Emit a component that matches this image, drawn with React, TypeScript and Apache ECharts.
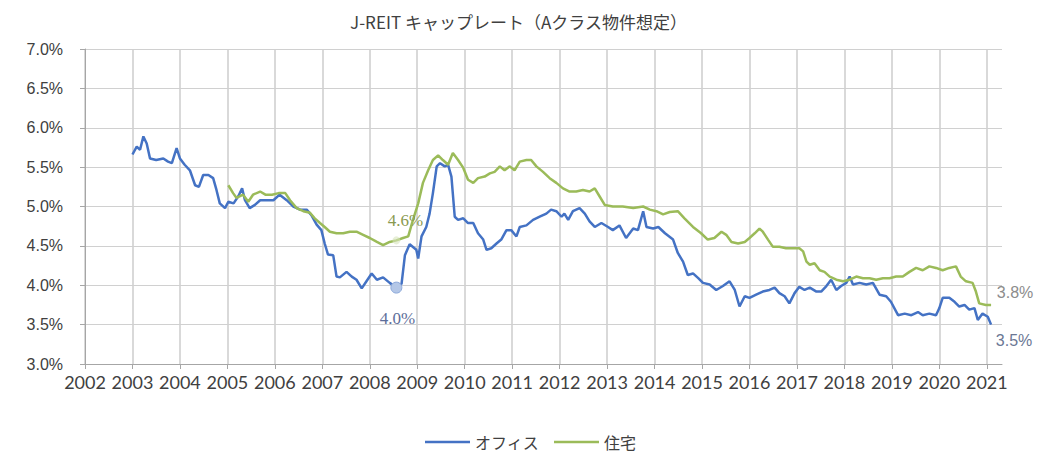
import React, { useEffect, useRef } from 'react';
import * as echarts from 'echarts';

const titleText = 'J-REIT キャップレート（Aクラス物件想定）';
const seriesNames = ['オフィス', '住宅'];
const yearTicks = [2002, 2003, 2004, 2005, 2006, 2007, 2008, 2009, 2010, 2011, 2012, 2013, 2014, 2015, 2016, 2017, 2018, 2019, 2020, 2021];
const yMin = 3;
const yMax = 7;

const officeYears = [
  2003.0, 2003.09, 2003.16, 2003.23, 2003.3, 2003.37, 2003.5, 2003.65, 2003.75, 2003.83, 2003.93,
  2004.0, 2004.1, 2004.21, 2004.32, 2004.4, 2004.49, 2004.6, 2004.7, 2004.77, 2004.84, 2004.95,
  2005.02, 2005.13, 2005.23, 2005.31, 2005.37, 2005.47, 2005.58, 2005.69, 2005.83, 2005.97,
  2006.1, 2006.25, 2006.39, 2006.53, 2006.67, 2006.77, 2006.88, 2006.98,
  2007.05, 2007.12, 2007.23, 2007.3, 2007.37, 2007.51, 2007.62, 2007.72, 2007.83, 2007.93,
  2008.04, 2008.15, 2008.28, 2008.42, 2008.56, 2008.67, 2008.74, 2008.84, 2008.98,
  2009.02, 2009.09, 2009.19, 2009.26, 2009.33, 2009.41, 2009.48, 2009.58, 2009.65, 2009.72, 2009.79, 2009.86, 2009.97,
  2010.07, 2010.18, 2010.28, 2010.39, 2010.46, 2010.56, 2010.67, 2010.77, 2010.88, 2010.98,
  2011.09, 2011.16, 2011.3, 2011.44, 2011.58, 2011.72, 2011.82, 2011.93,
  2012.04, 2012.1, 2012.18, 2012.28, 2012.42, 2012.53, 2012.63, 2012.74, 2012.88,
  2013.02, 2013.12, 2013.26, 2013.4, 2013.55, 2013.65, 2013.76, 2013.83, 2013.97,
  2014.08, 2014.22, 2014.39, 2014.49, 2014.6, 2014.7, 2014.81, 2014.92,
  2015.02, 2015.16, 2015.3, 2015.44, 2015.58, 2015.69, 2015.79, 2015.9,
  2016.0, 2016.14, 2016.28, 2016.42, 2016.53, 2016.63, 2016.74, 2016.84, 2016.95,
  2017.05, 2017.16, 2017.27, 2017.41, 2017.51, 2017.62, 2017.72, 2017.83, 2017.93,
  2018.04, 2018.11, 2018.18, 2018.32, 2018.46, 2018.6, 2018.74, 2018.88, 2018.98,
  2019.13, 2019.27, 2019.41, 2019.55, 2019.65, 2019.79, 2019.93,
  2020.0, 2020.07, 2020.21, 2020.32, 2020.42, 2020.53, 2020.63, 2020.74, 2020.81, 2020.91,
  2021.02, 2021.09,
];
const officeRates = [
  5.66, 5.76, 5.72, 5.89, 5.8, 5.61, 5.59, 5.61, 5.57, 5.55, 5.74,
  5.61, 5.53, 5.46, 5.27, 5.25, 5.4, 5.4, 5.36, 5.21, 5.04, 4.98,
  5.06, 5.04, 5.13, 5.23, 5.08, 4.98, 5.02, 5.08, 5.08, 5.08,
  5.15, 5.08, 5.0, 4.96, 4.96, 4.89, 4.77, 4.7,
  4.53, 4.39, 4.38, 4.11, 4.1, 4.17, 4.11, 4.07, 3.96, 4.05,
  4.15, 4.07, 4.1, 4.03, 3.97, 4.02, 4.38, 4.52, 4.45,
  4.34, 4.62, 4.74, 4.91, 5.17, 5.51, 5.55, 5.51, 5.53, 5.38, 4.87, 4.83, 4.85,
  4.79, 4.79, 4.66, 4.58, 4.45, 4.47, 4.53, 4.58, 4.7, 4.7,
  4.62, 4.74, 4.76, 4.83, 4.87, 4.91, 4.96, 4.94,
  4.87, 4.91, 4.83, 4.94, 4.98, 4.91, 4.81, 4.74, 4.79,
  4.74, 4.7, 4.76, 4.6, 4.72, 4.7, 4.94, 4.74, 4.72,
  4.74, 4.66, 4.58, 4.41, 4.3, 4.13, 4.15, 4.09,
  4.03, 4.01, 3.94, 3.99, 4.05, 3.94, 3.73, 3.86,
  3.84, 3.88, 3.92, 3.94, 3.97, 3.9, 3.86, 3.77, 3.9,
  3.98, 3.94, 3.97, 3.92, 3.92, 3.99, 4.07, 3.94, 3.99,
  4.03, 4.11, 4.01, 4.03, 4.01, 4.03, 3.88, 3.86, 3.79,
  3.62, 3.64, 3.62, 3.66, 3.62, 3.64, 3.62,
  3.71, 3.84, 3.84, 3.79, 3.73, 3.75, 3.69, 3.71, 3.56, 3.64,
  3.6, 3.5,
];

const residentialYears = [
  2005.02, 2005.12, 2005.19, 2005.33, 2005.44, 2005.54, 2005.69, 2005.8, 2005.94,
  2006.08, 2006.22, 2006.32, 2006.46, 2006.6, 2006.74, 2006.84, 2006.95,
  2007.05, 2007.16, 2007.3, 2007.44, 2007.58, 2007.72, 2007.86,
  2008.0, 2008.15, 2008.28, 2008.42, 2008.56, 2008.7, 2008.81, 2008.91,
  2009.02, 2009.12, 2009.23, 2009.33, 2009.44, 2009.54, 2009.65, 2009.75, 2009.86, 2009.97,
  2010.07, 2010.18, 2010.28, 2010.42, 2010.53, 2010.63, 2010.74, 2010.84, 2010.95,
  2011.05, 2011.16, 2011.3, 2011.4, 2011.51, 2011.65, 2011.79, 2011.93,
  2012.07, 2012.21, 2012.35, 2012.49, 2012.63, 2012.74, 2012.84, 2012.95,
  2013.12, 2013.33, 2013.55, 2013.76, 2013.9,
  2014.04, 2014.18, 2014.32, 2014.49, 2014.63, 2014.81, 2014.98,
  2015.12, 2015.26, 2015.41, 2015.51, 2015.62, 2015.76, 2015.9,
  2016.0, 2016.11, 2016.21, 2016.28, 2016.39, 2016.49, 2016.63, 2016.77, 2016.91,
  2017.05, 2017.13, 2017.2, 2017.27, 2017.37, 2017.48, 2017.58, 2017.69, 2017.83, 2017.97,
  2018.11, 2018.25, 2018.39, 2018.53, 2018.67, 2018.81, 2018.95,
  2019.09, 2019.23, 2019.37, 2019.51, 2019.65, 2019.79, 2019.93,
  2020.07, 2020.21, 2020.35, 2020.45, 2020.56, 2020.7, 2020.77, 2020.84, 2020.98,
  2021.09,
];
const residentialRates = [
  5.27, 5.17, 5.11, 5.15, 5.06, 5.15, 5.19, 5.15, 5.15,
  5.17, 5.17, 5.08, 4.98, 4.94, 4.92, 4.85, 4.79,
  4.74, 4.68, 4.66, 4.66, 4.68, 4.68, 4.64,
  4.6, 4.55, 4.51, 4.55, 4.57, 4.6, 4.62, 4.83,
  5.04, 5.3, 5.46, 5.59, 5.65, 5.59, 5.53, 5.68, 5.59, 5.49,
  5.34, 5.3, 5.36, 5.38, 5.42, 5.44, 5.51, 5.46, 5.51,
  5.46, 5.57, 5.59, 5.59, 5.51, 5.44, 5.36, 5.3,
  5.23, 5.19, 5.19, 5.21, 5.19, 5.23, 5.13, 5.02,
  5.0, 5.0, 4.98, 5.0, 4.96,
  4.94, 4.9, 4.93, 4.94, 4.85, 4.74, 4.66,
  4.58, 4.6, 4.68, 4.64, 4.55, 4.53, 4.55,
  4.6, 4.66, 4.72, 4.68, 4.58, 4.49, 4.49, 4.47, 4.47,
  4.47, 4.43, 4.3, 4.26, 4.28, 4.19, 4.17, 4.11, 4.07, 4.05,
  4.07, 4.11, 4.09, 4.09, 4.07, 4.09, 4.09,
  4.11, 4.11, 4.17, 4.22, 4.19, 4.24, 4.22,
  4.19, 4.22, 4.24, 4.11, 4.05, 4.03, 3.92, 3.77, 3.75,
  3.75,
];

// labelled points
const officeLowYear = 2008.56;
const officeLowValue = 3.97;
const officeLowLabel = '4.0%';
const residentialMarkYear = 2008.56;
const residentialMarkValue = 4.57;
const residentialMarkLabel = '4.6%';
const officeEndLabel = '3.5%';
const residentialEndLabel = '3.8%';

const zip = (xs: number[], ys: number[]) => xs.map((x, i) => [x, ys[i]]);

export default function App() {
  const ref = useRef<HTMLDivElement>(null);
  useEffect(() => {
    const chart = echarts.init(ref.current!, null, { renderer: 'svg' });
    const axisGray = '#a6a6a6';
    const gridGray = '#d0d0d0';
    const textColor = '#404040';
    const officeLastX = officeYears[officeYears.length - 1];
    const officeLastY = officeRates[officeRates.length - 1];
    const resLastX = residentialYears[residentialYears.length - 1];
    const resLastY = residentialRates[residentialRates.length - 1];
    chart.setOption({
      animation: false,
      title: {
        text: titleText,
        left: 'center',
        top: 8,
        textStyle: { fontSize: 17, fontWeight: 'normal', color: textColor, fontFamily: 'Noto Sans CJK JP' },
      },
      legend: {
        data: seriesNames,
        icon: 'rect',
        left: 420,
        top: 429,
        itemWidth: 45,
        itemHeight: 2.5,
        itemGap: 15,
        textStyle: { fontSize: 16, color: textColor, fontFamily: 'Noto Sans CJK JP' },
      },
      grid: { left: 85, right: 35, top: 49, bottom: 97 },
      xAxis: {
        type: 'value',
        min: 2002,
        max: 2021.32,
        interval: 1,
        axisLine: { show: true, lineStyle: { color: axisGray, width: 1 } },
        axisTick: { show: true, customValues: yearTicks, length: 5, lineStyle: { color: axisGray } },
        axisLabel: {
          customValues: yearTicks,
          formatter: (v: number) => String(Math.round(v)),
          fontSize: 18,
          color: textColor,
          margin: 9,
          fontFamily: 'Lato',
        },
        splitLine: { show: true, lineStyle: { color: gridGray, width: 1.6 } },
      },
      yAxis: {
        type: 'value',
        min: yMin,
        max: yMax,
        interval: 0.5,
        axisLine: { show: true, lineStyle: { color: axisGray, width: 1 } },
        axisTick: { show: true, length: 5, lineStyle: { color: axisGray } },
        axisLabel: {
          formatter: (v: number) => v.toFixed(1) + '%',
          fontSize: 16,
          color: textColor,
          margin: 22,
          fontFamily: 'Liberation Sans',
        },
        splitLine: { show: true, lineStyle: { color: gridGray, width: 1 } },
      },
      series: [
        {
          name: seriesNames[0],
          type: 'line',
          data: zip(officeYears, officeRates),
          symbol: 'none',
          color: '#4472C4',
          lineStyle: { width: 2.5, color: '#4472C4' },
          z: 3,
          markPoint: {
            silent: true,
            data: [
              {
                coord: [officeLowYear, officeLowValue],
                symbol: 'circle',
                symbolSize: 11,
                itemStyle: { color: '#b4c7e7', borderColor: '#8eaadb', borderWidth: 1 },
                label: {
                  show: true,
                  formatter: officeLowLabel,
                  position: 'inside',
                  offset: [1, 31],
                  fontSize: 17,
                  color: '#5d6e9a',
                  fontFamily: 'Liberation Serif',
                },
              },
              {
                coord: [officeLastX, officeLastY],
                symbol: 'circle',
                symbolSize: 1,
                itemStyle: { color: 'rgba(0,0,0,0)' },
                label: {
                  show: true,
                  formatter: officeEndLabel,
                  position: 'inside',
                  offset: [23, 16],
                  fontSize: 16,
                  color: '#6b7794',
                  fontFamily: 'Liberation Sans',
                },
              },
            ],
          },
        },
        {
          name: seriesNames[1],
          type: 'line',
          data: zip(residentialYears, residentialRates),
          symbol: 'none',
          color: '#9BBB59',
          lineStyle: { width: 2.5, color: '#9BBB59' },
          z: 4,
          markPoint: {
            silent: true,
            data: [
              {
                coord: [residentialMarkYear, residentialMarkValue],
                symbol: 'circle',
                symbolSize: 8,
                itemStyle: { color: 'rgba(215,228,189,0.6)' },
                label: {
                  show: true,
                  formatter: residentialMarkLabel,
                  position: 'inside',
                  offset: [9, -20],
                  fontSize: 17,
                  color: '#8a9a50',
                  fontFamily: 'Liberation Serif',
                },
              },
              {
                coord: [resLastX, resLastY],
                symbol: 'circle',
                symbolSize: 1,
                itemStyle: { color: 'rgba(0,0,0,0)' },
                label: {
                  show: true,
                  formatter: residentialEndLabel,
                  position: 'inside',
                  offset: [24, -12],
                  fontSize: 16,
                  color: '#8c8c8c',
                  fontFamily: 'Liberation Sans',
                },
              },
            ],
          },
        },
      ],
    });
    return () => chart.dispose();
  }, []);
  return (
    <div
      ref={ref}
      style={{ position: 'absolute', left: 0, top: 0, width: 1037, height: 461, background: '#ffffff' }}
    />
  );
}
